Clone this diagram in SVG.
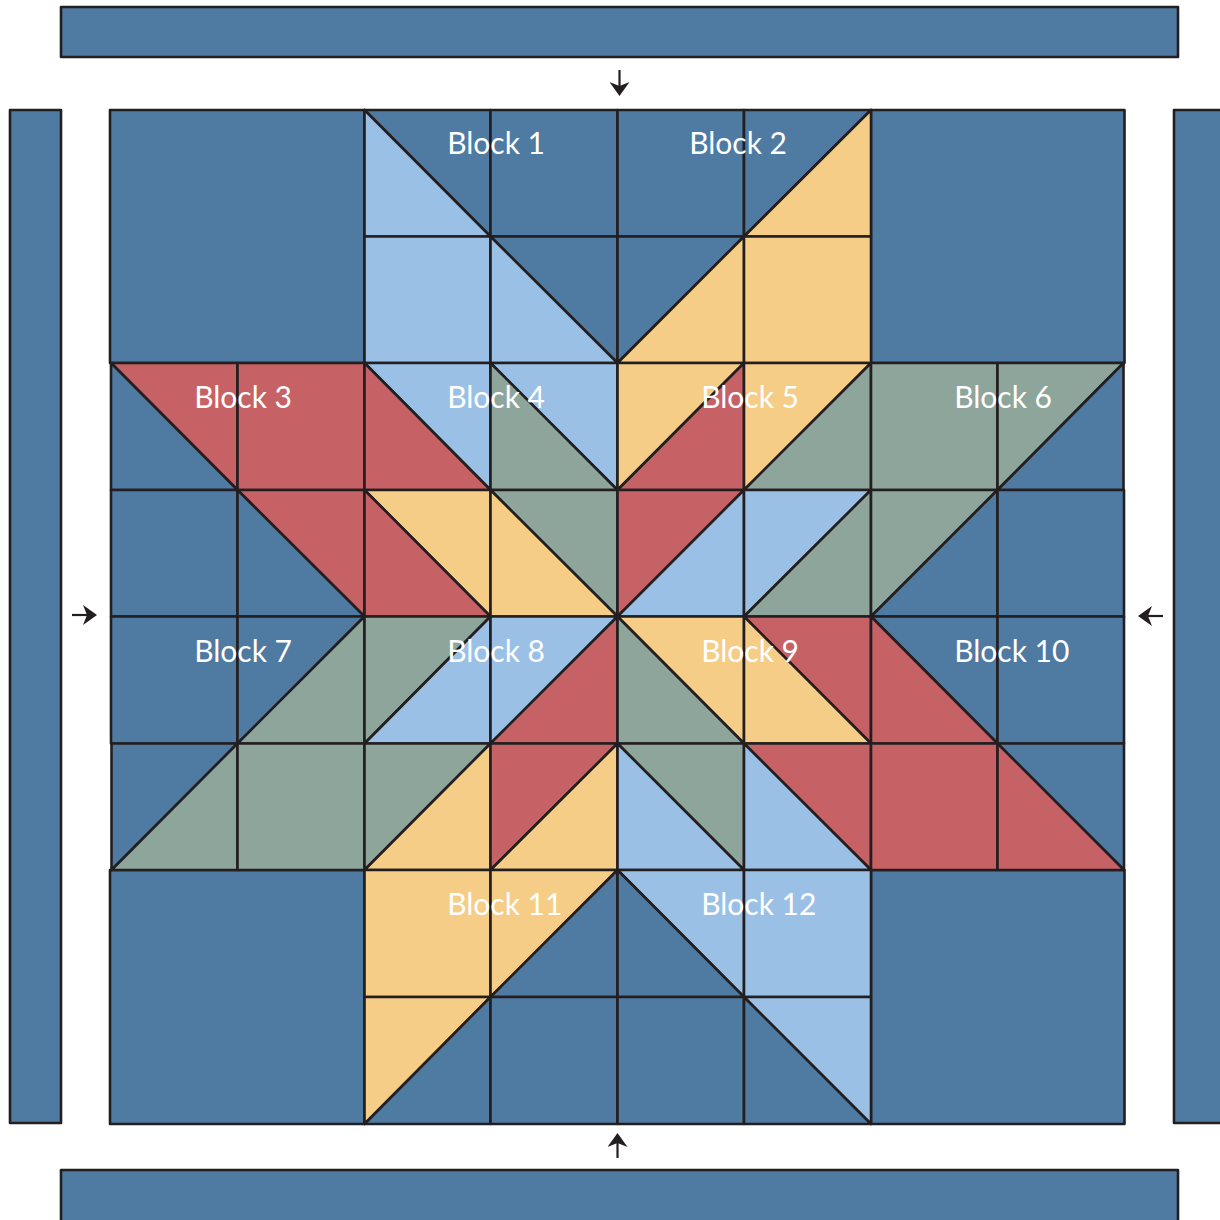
<svg xmlns="http://www.w3.org/2000/svg" width="1220" height="1220" viewBox="0 0 1220 1220">
<style>
polygon,rect{stroke:#231f20;stroke-width:2.6;stroke-linejoin:round}
.n{fill:#4f7aa2}.l{fill:#9bc0e6}.y{fill:#f6cd86}.r{fill:#c66266}.g{fill:#8ea59b}
text{font-family:"Lato","Liberation Sans",sans-serif;font-size:30px;fill:#fff}
.a{stroke:#231f20;stroke-width:2.2;fill:none;marker-end:url(#h)}
</style>
<defs><marker id="h" markerUnits="userSpaceOnUse" viewBox="0 0 14 20" refX="10" refY="10" markerWidth="14" markerHeight="20" orient="auto"><path d="M0,0L14,10L0,20L4,10Z" fill="#231f20"/></marker></defs>
<rect width="1220" height="1220" style="fill:#fff;stroke:none"/>
<g id="border-top"><rect class="n" x="61" y="7" width="1117" height="50"/></g>
<g id="border-left"><rect class="n" x="10" y="110" width="51" height="1013"/></g>
<g id="border-right"><rect class="n" x="1174" y="110" width="60" height="1013"/></g>
<g id="border-bottom"><rect class="n" x="61" y="1170" width="1117" height="60"/></g>
<g id="corner-tl"><rect class="n" x="110" y="110" width="254.5" height="253"/></g>
<g id="corner-tr"><rect class="n" x="871" y="110" width="253.5" height="253"/></g>
<g id="corner-bl"><rect class="n" x="110" y="870" width="254.5" height="254"/></g>
<g id="corner-br"><rect class="n" x="871" y="870" width="253.5" height="254"/></g>
<g id="block-1">
<polygon class="n" points="364.5,110 490.5,110 490.5,236.5"/><polygon class="l" points="364.5,110 364.5,236.5 490.5,236.5"/>
<rect class="n" x="490.5" y="110" width="127" height="126.5"/>
<rect class="l" x="364.5" y="236.5" width="126" height="126.5"/>
<polygon class="n" points="490.5,236.5 617.5,236.5 617.5,363"/><polygon class="l" points="490.5,236.5 490.5,363 617.5,363"/>
<text x="447.2" y="154.3">Block 1</text>
</g>
<g id="block-2">
<rect class="n" x="617.5" y="110" width="126.5" height="126.5"/>
<polygon class="n" points="744,110 871,110 744,236.5"/><polygon class="y" points="871,110 871,236.5 744,236.5"/>
<polygon class="n" points="617.5,236.5 744,236.5 617.5,363"/><polygon class="y" points="744,236.5 744,363 617.5,363"/>
<rect class="y" x="744" y="236.5" width="127" height="126.5"/>
<text x="689.2" y="154.3">Block 2</text>
</g>
<g id="block-3">
<polygon class="r" points="111,363 237.5,363 237.5,490"/><polygon class="n" points="111,363 111,490 237.5,490"/>
<rect class="r" x="237.5" y="363" width="127" height="127"/>
<rect class="n" x="111" y="490" width="126.5" height="126.5"/>
<polygon class="r" points="237.5,490 364.5,490 364.5,616.5"/><polygon class="n" points="237.5,490 237.5,616.5 364.5,616.5"/>
<text x="194.2" y="408.3">Block 3</text>
</g>
<g id="block-4">
<polygon class="l" points="364.5,363 490.5,363 490.5,490"/><polygon class="r" points="364.5,363 364.5,490 490.5,490"/>
<polygon class="l" points="490.5,363 617.5,363 617.5,490"/><polygon class="g" points="490.5,363 490.5,490 617.5,490"/>
<polygon class="y" points="364.5,490 490.5,490 490.5,616.5"/><polygon class="r" points="364.5,490 364.5,616.5 490.5,616.5"/>
<polygon class="g" points="490.5,490 617.5,490 617.5,616.5"/><polygon class="y" points="490.5,490 490.5,616.5 617.5,616.5"/>
<text x="447.2" y="408.3">Block 4</text>
</g>
<g id="block-5">
<polygon class="y" points="617.5,363 744,363 617.5,490"/><polygon class="r" points="744,363 744,490 617.5,490"/>
<polygon class="y" points="744,363 871,363 744,490"/><polygon class="g" points="871,363 871,490 744,490"/>
<polygon class="r" points="617.5,490 744,490 617.5,616.5"/><polygon class="l" points="744,490 744,616.5 617.5,616.5"/>
<polygon class="l" points="744,490 871,490 744,616.5"/><polygon class="g" points="871,490 871,616.5 744,616.5"/>
<text x="701.2" y="408.3">Block 5</text>
</g>
<g id="block-6">
<rect class="g" x="871" y="363" width="126.5" height="127"/>
<polygon class="g" points="997.5,363 1123.5,363 997.5,490"/><polygon class="n" points="1123.5,363 1123.5,490 997.5,490"/>
<polygon class="g" points="871,490 997.5,490 871,616.5"/><polygon class="n" points="997.5,490 997.5,616.5 871,616.5"/>
<rect class="n" x="997.5" y="490" width="126.5" height="126.5"/>
<text x="954.2" y="408.3">Block 6</text>
</g>
<g id="block-7">
<rect class="n" x="111" y="616.5" width="126.5" height="127"/>
<polygon class="n" points="237.5,616.5 364.5,616.5 237.5,743.5"/><polygon class="g" points="364.5,616.5 364.5,743.5 237.5,743.5"/>
<polygon class="n" points="111.5,743.5 237.5,743.5 111.5,870"/><polygon class="g" points="237.5,743.5 237.5,870 111.5,870"/>
<rect class="g" x="237.5" y="743.5" width="127" height="126.5"/>
<text x="194.2" y="662.3">Block 7</text>
</g>
<g id="block-8">
<polygon class="g" points="364.5,616.5 490.5,616.5 364.5,743.5"/><polygon class="l" points="490.5,616.5 490.5,743.5 364.5,743.5"/>
<polygon class="l" points="490.5,616.5 617.5,616.5 490.5,743.5"/><polygon class="r" points="617.5,616.5 617.5,743.5 490.5,743.5"/>
<polygon class="g" points="364.5,743.5 490.5,743.5 364.5,870"/><polygon class="y" points="490.5,743.5 490.5,870 364.5,870"/>
<polygon class="r" points="490.5,743.5 617.5,743.5 490.5,870"/><polygon class="y" points="617.5,743.5 617.5,870 490.5,870"/>
<text x="447.2" y="662.3">Block 8</text>
</g>
<g id="block-9">
<polygon class="y" points="617.5,616.5 744,616.5 744,743.5"/><polygon class="g" points="617.5,616.5 617.5,743.5 744,743.5"/>
<polygon class="r" points="744,616.5 871,616.5 871,743.5"/><polygon class="y" points="744,616.5 744,743.5 871,743.5"/>
<polygon class="g" points="617.5,743.5 744,743.5 744,870"/><polygon class="l" points="617.5,743.5 617.5,870 744,870"/>
<polygon class="r" points="744,743.5 871,743.5 871,870"/><polygon class="l" points="744,743.5 744,870 871,870"/>
<text x="701.2" y="662.3">Block 9</text>
</g>
<g id="block-10">
<polygon class="n" points="871,616.5 997.5,616.5 997.5,743.5"/><polygon class="r" points="871,616.5 871,743.5 997.5,743.5"/>
<rect class="n" x="997.5" y="616.5" width="126.5" height="127"/>
<rect class="r" x="871" y="743.5" width="126.5" height="126.5"/>
<polygon class="n" points="997.5,743.5 1124,743.5 1124,870"/><polygon class="r" points="997.5,743.5 997.5,870 1124,870"/>
<text x="954.2" y="662.3">Block 10</text>
</g>
<g id="block-11">
<rect class="y" x="364.5" y="870" width="126" height="127"/>
<polygon class="y" points="490.5,870 617.5,870 490.5,997"/><polygon class="n" points="617.5,870 617.5,997 490.5,997"/>
<polygon class="y" points="364.5,997 490.5,997 364.5,1124"/><polygon class="n" points="490.5,997 490.5,1124 364.5,1124"/>
<rect class="n" x="490.5" y="997" width="127" height="127"/>
<text x="447.2" y="915">Block 11</text>
</g>
<g id="block-12">
<polygon class="l" points="617.5,870 744,870 744,997"/><polygon class="n" points="617.5,870 617.5,997 744,997"/>
<rect class="l" x="744" y="870" width="127" height="127"/>
<rect class="n" x="617.5" y="997" width="126.5" height="127"/>
<polygon class="l" points="744,997 871,997 871,1124"/><polygon class="n" points="744,997 744,1124 871,1124"/>
<text x="701.2" y="915">Block 12</text>
</g>
<g id="connectors">
<line class="a" x1="619.5" y1="70" x2="619.5" y2="92"/>
<line class="a" x1="72" y1="615" x2="93" y2="615"/>
<line class="a" x1="1163" y1="616" x2="1142" y2="616"/>
<line class="a" x1="617.5" y1="1158" x2="617.5" y2="1137"/>
</g>
</svg>
